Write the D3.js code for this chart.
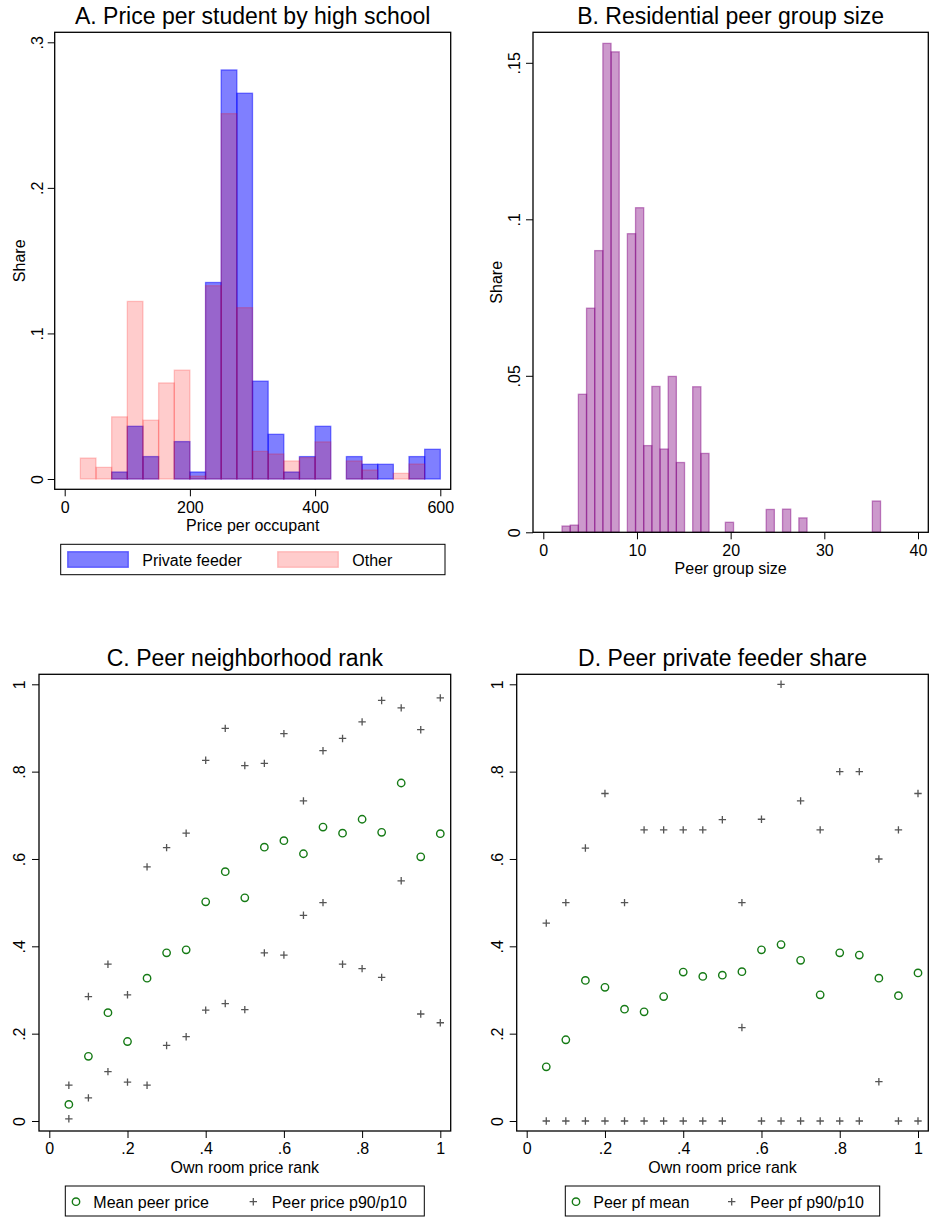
<!DOCTYPE html>
<html>
<head>
<meta charset="utf-8">
<script src="https://d3js.org/d3.v7.min.js"></script>
<style>
  body { margin: 0; background: #fff; }
  text { font-family: "Liberation Sans", Arial, Helvetica, sans-serif; fill: #000; }
</style>
</head>
<body>
<script>
// ---- data ----
// A: price per occupant histogram (bin lower edges, width 25)
var priceBinEdges = [25,50,75,100,125,150,175,200,225,250,275,300,325,350,375,400,425,450,475,500,525,550,575];
var privateFeederShare = [0,0,0.0048,0.0362,0.0154,0,0.0257,0.0048,0.135,0.281,0.265,0.0672,0.0307,0.0048,0.0154,0.0362,0,0.0154,0.0101,0.0101,0,0.0154,0.0204];
var otherShare = [0.0144,0.008,0.0427,0.122,0.0404,0.066,0.0748,0.002,0.1328,0.251,0.1177,0.019,0.0172,0.0124,0.0147,0.0255,0,0.0124,0.0062,0,0.0039,0.0103,0];
var priceXTicks = [0,200,400,600];
var priceYTicks = [0,0.1,0.2,0.3];

// B: peer group size histogram (39 bins from 2 to 36)
var peerSizeMin = 2, peerSizeMax = 36;
var peerSizeShare = [0.0020,0.0023,0.0441,0.0716,0.090,0.1562,0.1535,0,0.0954,0.1037,
  0.0277,0.0466,0.0266,0.0498,0.0223,0,0.0465,0.0252,0,0,
  0.0032,0,0,0,0,0.0073,0,0.0074,0,0.0046,
  0,0,0,0,0,0,0,0,0.0100];
var peerXTicks = [0,10,20,30,40];
var peerYTicks = [0,0.05,0.1,0.15];

// C/D: own room price rank
var ownRank = [0.05,0.10,0.15,0.20,0.25,0.30,0.35,0.40,0.45,0.50,0.55,0.60,0.65,0.70,0.75,0.80,0.85,0.90,0.95,1.00];
var meanPeerPrice = [0.038,0.148,0.248,0.182,0.327,0.385,0.392,0.502,0.571,0.511,0.627,0.642,0.612,0.673,0.659,0.691,0.661,0.774,0.605,0.658];
var peerPriceP90 = [0.082,0.285,0.359,0.289,0.582,0.626,0.659,0.826,0.899,0.814,0.819,0.887,0.733,0.848,0.876,0.914,0.963,0.946,0.896,0.969];
var peerPriceP10 = [0.005,0.053,0.113,0.089,0.082,0.173,0.193,0.254,0.269,0.255,0.385,0.380,0.471,0.500,0.359,0.349,0.329,0.550,0.245,0.225];
var peerPfMean = [0.124,0.186,0.322,0.306,0.256,0.250,0.285,0.341,0.331,0.334,0.342,0.392,0.404,0.368,0.289,0.385,0.380,0.327,0.287,0.339];
var peerPfP90 = [0.453,0.5,0.625,0.75,0.5,0.6667,0.6667,0.6667,0.6667,0.69,0.5,0.691,1.0,0.733,0.6667,0.8,0.8,0.6,0.6667,0.75];
var peerPfP10 = [0,0,0,0,0,0,0,0,0,0,0.214,0,0,0,0,0,0,0.09,0,0];
var rankTicks = [0,0.2,0.4,0.6,0.8,1];

var svg = d3.select("body").append("svg").attr("width", 930).attr("height", 1218);

function fmt(v) {
  if (v === 0) return "0";
  return String(+v.toFixed(3)).replace(/^0\./, ".");
}

// draws frame, axes, title and axis titles; returns nothing
function frame(p) {
  var g = p.g;
  g.append("rect")
    .attr("x", p.left).attr("y", p.top)
    .attr("width", p.right - p.left).attr("height", p.bottom - p.top)
    .attr("fill", "none").attr("stroke", "#000").attr("stroke-width", 1.3);

  g.append("g")
    .attr("transform", "translate(0," + p.bottom + ")")
    .call(d3.axisBottom(p.x).tickValues(p.xTicks).tickFormat(fmt).tickSize(7).tickPadding(5))
    .call(function(a) {
      a.select(".domain").remove();
      a.selectAll("line").attr("stroke", "#000");
      a.selectAll("text").style("font-size", "16px").attr("font-family", null);
    });

  var ya = g.append("g")
    .attr("transform", "translate(" + p.left + ",0)")
    .call(d3.axisLeft(p.y).tickValues(p.yTicks).tickFormat(fmt).tickSize(7));
  ya.select(".domain").remove();
  ya.selectAll("line").attr("stroke", "#000");
  ya.selectAll("text")
    .attr("x", null).attr("dy", null)
    .attr("transform", "translate(" + (-p.yLabOff) + ",0) rotate(-90)")
    .attr("text-anchor", "middle")
    .style("font-size", "16px").attr("font-family", null);

  g.append("text")
    .attr("x", (p.left + p.right) / 2).attr("y", p.top - 8.3)
    .attr("text-anchor", "middle").style("font-size", "23px")
    .text(p.title);

  g.append("text")
    .attr("x", (p.left + p.right) / 2).attr("y", p.bottom + 41.5)
    .attr("text-anchor", "middle").style("font-size", "16px")
    .text(p.xTitle);

  if (p.yTitle) {
    g.append("text")
      .attr("transform", "translate(" + p.yTitleX + "," + ((p.top + p.bottom) / 2) + ") rotate(-90)")
      .attr("text-anchor", "middle").style("font-size", "16px")
      .text(p.yTitle);
  }
}

function plus(sel, cx, cy) {
  var s = 3.7;
  sel.append("path")
    .attr("d", "M" + (cx - s) + "," + cy + "H" + (cx + s) + "M" + cx + "," + (cy - s) + "V" + (cy + s))
    .attr("stroke", "#555").attr("stroke-width", 1.3).attr("fill", "none");
}
function circ(sel, cx, cy) {
  sel.append("circle").attr("cx", cx).attr("cy", cy).attr("r", 3.7)
    .attr("fill", "none").attr("stroke", "#157a15").attr("stroke-width", 1.4);
}

// ---------- Panel A ----------
(function() {
  var g = svg.append("g");
  var x = d3.scaleLinear().domain([0, 600]).range([64.7, 440.3]);
  var y = d3.scaleLinear().domain([0, 0.3]).range([479, 42.3]);
  var bw = 25;

  function bars(values, color, op) {
    g.append("g").selectAll("rect")
      .data(priceBinEdges.map(function(e, i) { return {lo: e, v: values[i]}; }).filter(function(d) { return d.v > 0; }))
      .enter().append("rect")
      .attr("x", function(d) { return x(d.lo); })
      .attr("y", function(d) { return y(d.v); })
      .attr("width", function(d) { return x(d.lo + bw) - x(d.lo); })
      .attr("height", function(d) { return y(0) - y(d.v); })
      .attr("fill", color).attr("fill-opacity", op)
      .attr("stroke", color).attr("stroke-opacity", op).attr("stroke-width", 1.3);
  }
  bars(privateFeederShare, "#0000ff", 0.5);
  bars(otherShare, "#ff0000", 0.2);

  frame({g: g, left: 54.7, right: 450.7, top: 32.3, bottom: 489.3, x: x, y: y,
    xTicks: priceXTicks, yTicks: priceYTicks, yLabOff: 11.7,
    title: "A. Price per student by high school", xTitle: "Price per occupant",
    yTitle: "Share", yTitleX: 25});

  // legend
  var lg = g.append("g");
  lg.append("rect").attr("x", 60.7).attr("y", 544.3).attr("width", 384.3).attr("height", 30.4)
    .attr("fill", "#fff").attr("stroke", "#000").attr("stroke-width", 1);
  var items = [{c: "#0000ff", o: 0.5, t: "Private feeder", x: 67.7},
               {c: "#ff0000", o: 0.2, t: "Other", x: 277.7}];
  items.forEach(function(it) {
    lg.append("rect").attr("x", it.x).attr("y", 551.7).attr("width", 60.6).attr("height", 15.6)
      .attr("fill", it.c).attr("fill-opacity", it.o)
      .attr("stroke", it.c).attr("stroke-opacity", it.o).attr("stroke-width", 1.3);
    lg.append("text").attr("x", it.x + 74.6).attr("y", 565.5).style("font-size", "16px").text(it.t);
  });
})();

// ---------- Panel B ----------
(function() {
  var g = svg.append("g");
  var x = d3.scaleLinear().domain([0, 40]).range([543.3, 918]);
  var y = d3.scaleLinear().domain([0, 0.15]).range([532.3, 62.8]);
  var w = (peerSizeMax - peerSizeMin) / peerSizeShare.length;
  var data = peerSizeShare.map(function(v, i) { return {lo: peerSizeMin + i * w, v: v}; })
    .filter(function(d) { return d.v > 0; });

  g.append("g").selectAll("rect").data(data).enter().append("rect")
    .attr("x", function(d) { return x(d.lo); })
    .attr("y", function(d) { return y(d.v); })
    .attr("width", function(d) { return x(d.lo + w) - x(d.lo); })
    .attr("height", function(d) { return y(0) - y(d.v); })
    .attr("fill", "#800080").attr("fill-opacity", 0.4)
    .attr("stroke", "#800080").attr("stroke-opacity", 0.45).attr("stroke-width", 1.3);

  frame({g: g, left: 533, right: 928.3, top: 32.3, bottom: 532.3, x: x, y: y,
    xTicks: peerXTicks, yTicks: peerYTicks, yLabOff: 13,
    title: "B. Residential peer group size", xTitle: "Peer group size",
    yTitle: "Share", yTitleX: 501.7});
})();

// ---------- Panels C and D ----------
function scatterPanel(opt) {
  var g = svg.append("g");
  var x = d3.scaleLinear().domain([0, 1]).range([opt.x0, opt.x1]);
  var y = d3.scaleLinear().domain([0, 1]).range([1121, 684.3]);

  ownRank.forEach(function(r, i) {
    plus(g, x(r), y(opt.hi[i]));
    plus(g, x(r), y(opt.lo[i]));
  });
  ownRank.forEach(function(r, i) { circ(g, x(r), y(opt.mean[i])); });

  frame({g: g, left: opt.left, right: opt.right, top: 674.3, bottom: 1131, x: x, y: y,
    xTicks: rankTicks, yTicks: rankTicks, yLabOff: 14,
    title: opt.title, xTitle: "Own room price rank"});

  var lg = g.append("g");
  lg.append("rect").attr("x", opt.lgX0).attr("y", 1186).attr("width", opt.lgX1 - opt.lgX0).attr("height", 30)
    .attr("fill", "#fff").attr("stroke", "#000").attr("stroke-width", 1);
  circ(lg, opt.lgX0 + 10.7, 1201.7);
  lg.append("text").attr("x", opt.lgX0 + 28).attr("y", 1208.3).style("font-size", "16px").text(opt.l1);
  plus(lg, opt.plusX, 1201.7);
  lg.append("text").attr("x", opt.plusX + 18.4).attr("y", 1208.3).style("font-size", "16px").text(opt.l2);
}

scatterPanel({left: 39, right: 450.7, x0: 49.3, x1: 440.3,
  mean: meanPeerPrice, hi: peerPriceP90, lo: peerPriceP10,
  title: "C. Peer neighborhood rank",
  lgX0: 65.3, lgX1: 424.3, plusX: 253.3, l1: "Mean peer price", l2: "Peer price p90/p10"});

scatterPanel({left: 516.7, right: 928.3, x0: 526.7, x1: 918,
  mean: peerPfMean, hi: peerPfP90, lo: peerPfP10,
  title: "D. Peer private feeder share",
  lgX0: 565.3, lgX1: 879.7, plusX: 731.7, l1: "Peer pf mean", l2: "Peer pf p90/p10"});
</script>
</body>
</html>
